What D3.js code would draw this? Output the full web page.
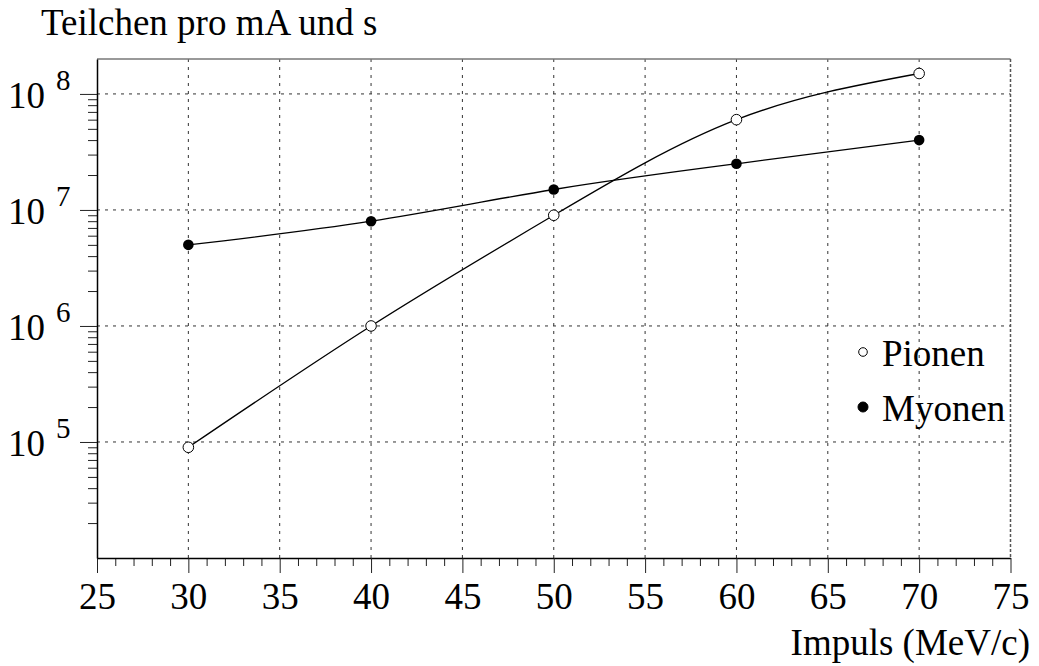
<!DOCTYPE html>
<html>
<head>
  <meta charset="UTF-8">
  <title></title>
  <style>
    body{ margin:0; background:#fff; }
    text{ font-family: 'Liberation Serif', 'Times New Roman', serif; fill:#000; }
    .grid line{ stroke:#333; stroke-width:1; stroke-dasharray:3,5; }
    .tick line{ stroke:#222; }
  </style>
</head>
<body>
  <script src="https://cdnjs.cloudflare.com/ajax/libs/d3/7.8.5/d3.min.js"></script>
  <script>
/// data
var momentum = [30, 40, 50, 60, 70];
var pionen = [9e4, 1e6, 9e6, 6e7, 1.5e8];
var myonen = [5e6, 8e6, 1.5e7, 2.5e7, 4e7];
var xMajor = [25, 30, 35, 40, 45, 50, 55, 60, 65, 70, 75];
var xGrid = [30, 35, 40, 45, 50, 55, 60, 65, 70];
var yDecades = [5, 6, 7, 8];
var seriesNames = ["Pionen", "Myonen"];

/// layout
var width = 1039, height = 666;
var m = {left: 97, right: 1010.5, top: 59, bottom: 558};
var fs = "37px";

var svg = d3.select("body").append("svg")
    .attr("width", width)
    .attr("height", height);

var x = d3.scaleLinear().domain([25, 75]).range([m.left, m.right]);
var y = d3.scaleLog().domain([1e4, 2e8]).range([m.bottom, m.top]);

// grid
var grid = svg.append("g").attr("class", "grid");
grid.selectAll("line.v").data(xGrid).enter().append("line")
    .attr("x1", d => x(d)).attr("x2", d => x(d))
    .attr("y1", m.top).attr("y2", m.bottom);
grid.selectAll("line.h").data(yDecades).enter().append("line")
    .attr("x1", m.left).attr("x2", m.right)
    .attr("y1", d => y(Math.pow(10, d))).attr("y2", d => y(Math.pow(10, d)));

// frame: top solid grey, right dashed grey
svg.append("line")
    .attr("x1", m.left).attr("x2", m.right).attr("y1", m.top).attr("y2", m.top)
    .attr("stroke", "#777").attr("stroke-width", 1.5);
svg.append("line")
    .attr("x1", m.right).attr("x2", m.right).attr("y1", m.top).attr("y2", m.bottom)
    .attr("stroke", "#555").attr("stroke-width", 1.5).attr("stroke-dasharray", "3,2");

// x axis
var xMinor = d3.range(26, 75).filter(d => d % 5 != 0);
svg.append("g")
    .attr("transform", "translate(0," + m.bottom + ")")
    .call(d3.axisBottom(x).tickValues(xMinor).tickSize(8).tickFormat(""))
    .call(g => g.select(".domain").remove());
var xa = svg.append("g")
    .attr("transform", "translate(0," + m.bottom + ")")
    .call(d3.axisBottom(x).tickValues(xMajor).tickSize(15).tickSizeOuter(0).tickFormat(""));
xa.select(".domain").attr("stroke", "#000").attr("stroke-width", 1.5);
xa.selectAll(".tick").append("text")
    .attr("y", 51)
    .attr("text-anchor", "middle")
    .style("font-size", fs)
    .text(d => d);

// y axis
var yMinor = [];
[4, 5, 6, 7, 8].forEach(function(e) {
  for (var k = 2; k <= 9; k++) {
    var v = k * Math.pow(10, e);
    if (v < 2e8) yMinor.push(v);
  }
});
svg.append("g")
    .attr("transform", "translate(" + m.left + ",0)")
    .call(d3.axisLeft(y).tickValues(yMinor).tickSize(9).tickFormat(""))
    .call(g => g.select(".domain").remove());
var ya = svg.append("g")
    .attr("transform", "translate(" + m.left + ",0)")
    .call(d3.axisLeft(y).tickValues(yDecades.map(d => Math.pow(10, d))).tickSize(17).tickSizeOuter(0).tickFormat(""));
ya.select(".domain").attr("stroke", "#000").attr("stroke-width", 1.5);

var ylab = svg.append("g").selectAll("g").data(yDecades).enter().append("g")
    .attr("transform", d => "translate(0," + y(Math.pow(10, d)) + ")");
ylab.append("text")
    .attr("x", 45).attr("y", 14)
    .attr("text-anchor", "end")
    .style("font-size", fs)
    .text("10");
ylab.append("text")
    .attr("x", 56).attr("y", -4)
    .style("font-size", "29px")
    .text(d => d);

// curves
var line = d3.line()
    .x(d => x(d[0]))
    .y(d => y(d[1]))
    .curve(d3.curveNatural);

[pionen, myonen].forEach(function(vals) {
  svg.append("path")
      .datum(momentum.map((mm, i) => [mm, vals[i]]))
      .attr("d", line)
      .attr("fill", "none")
      .attr("stroke", "#000")
      .attr("stroke-width", 1.3);
});

// markers
svg.append("g").selectAll("circle").data(momentum).enter().append("circle")
    .attr("cx", d => x(d)).attr("cy", (d, i) => y(pionen[i]))
    .attr("r", 5.3).attr("fill", "#fff").attr("stroke", "#000").attr("stroke-width", 1);
svg.append("g").selectAll("circle").data(momentum).enter().append("circle")
    .attr("cx", d => x(d)).attr("cy", (d, i) => y(myonen[i]))
    .attr("r", 5.3).attr("fill", "#000");

// legend
var legend = svg.append("g").attr("class", "legend");
var leg = legend.selectAll("g").data(seriesNames).enter().append("g")
    .attr("transform", (d, i) => "translate(863," + (352 + i * 55) + ")");
leg.append("circle")
    .attr("r", (d, i) => i == 0 ? 4.3 : 5)
    .attr("fill", (d, i) => i == 0 ? "#fff" : "#000")
    .attr("stroke", "#000").attr("stroke-width", 1);
leg.append("text")
    .attr("x", 19).attr("y", 14)
    .style("font-size", fs)
    .text(d => d);

// titles
svg.append("text")
    .attr("x", 41).attr("y", 35)
    .style("font-size", fs)
    .text("Teilchen pro mA und s");
svg.append("text")
    .attr("x", 1030).attr("y", 655)
    .attr("text-anchor", "end")
    .style("font-size", fs)
    .text("Impuls (MeV/c)");
  </script>
</body>
</html>
